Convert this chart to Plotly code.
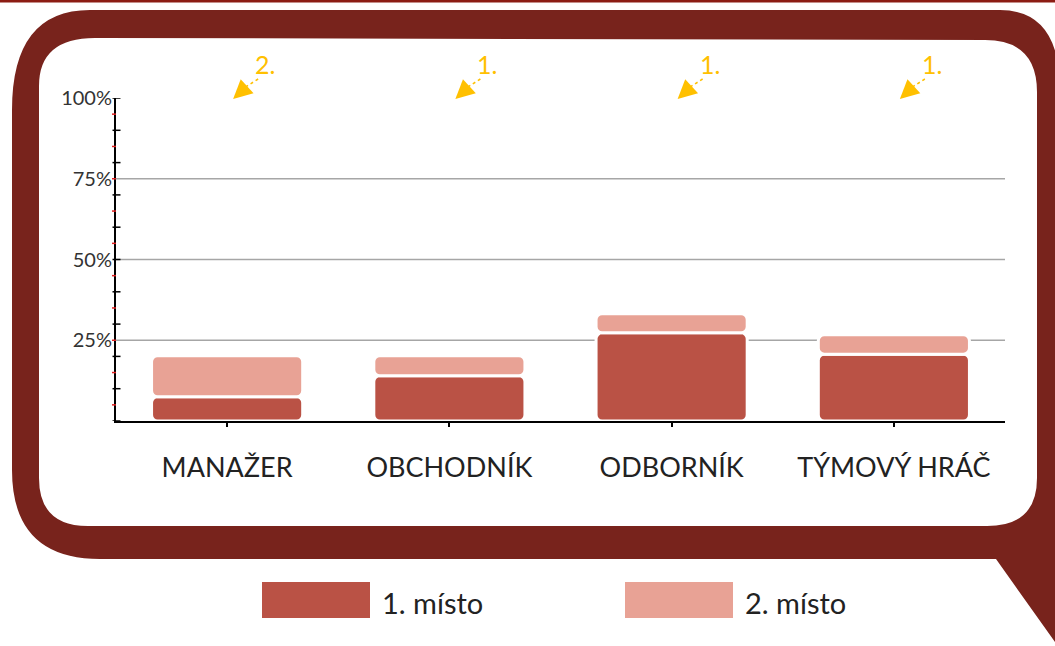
import plotly.graph_objects as go

# ---- data ----
categories = ["MANAŽER", "OBCHODNÍK", "ODBORNÍK", "TÝMOVÝ HRÁČ"]
first_place = [7.5, 14, 27.3, 20.7]
second_place = [12.7, 6.2, 5.9, 6.0]
series_names = ["1. místo", "2. místo"]
rank_labels = ["2.", "1.", "1.", "1."]
ytick_vals = [25, 50, 75, 100]
ytick_text = ["25%", "50%", "75%", "100%"]

# ---- styling ----
W, H = 1055, 646
DARK = "#BA5245"
LIGHT = "#E8A295"
BUBBLE = "#78231C"
GOLD = "#FFC000"
FONT = "Lato"


def px(x):
    return x / W


def py(y):
    return 1 - y / H


X0, X1 = 116, 1005   # plot area in pixels
Y0, Y1 = 421, 98

fig = go.Figure()
fig.add_trace(go.Bar(x=categories, y=first_place, base=[0] * len(first_place),
                     name=series_names[0], marker=dict(color=DARK, line=dict(color="white", width=3)),
                     showlegend=False))
fig.add_trace(go.Bar(x=categories, y=second_place, base=first_place,
                     name=series_names[1], marker=dict(color=LIGHT, line=dict(color="white", width=3)),
                     showlegend=False))

shapes = []
# thin stripe on top
shapes.append(dict(type="rect", xref="paper", yref="paper", x0=0, x1=1, y0=py(2.5), y1=1,
                   fillcolor="#8C1C13", line=dict(width=0), layer="below"))

# outer speech bubble
outer = (f"M {px(90)} {py(10)} L {px(1000)} {py(10)} "
         f"Q {px(1060)} {py(10)} {px(1060)} {py(90)} "
         f"L {px(1060)} {py(642)} L {px(1055)} {py(642)} "
         f"L {px(996)} {py(559)} L {px(100)} {py(559)} "
         f"Q {px(12)} {py(559)} {px(12)} {py(470)} "
         f"L {px(12)} {py(110)} Q {px(12)} {py(10)} {px(90)} {py(10)} Z")
shapes.append(dict(type="path", xref="paper", yref="paper", path=outer,
                   fillcolor=BUBBLE, line=dict(width=0), layer="below"))
inner = (f"M {px(95)} {py(38)} L {px(985)} {py(40)} "
         f"Q {px(1037)} {py(40)} {px(1037)} {py(92)} "
         f"L {px(1037)} {py(478)} Q {px(1037)} {py(526)} {px(987)} {py(526)} "
         f"L {px(88)} {py(526)} Q {px(39)} {py(526)} {px(39)} {py(478)} "
         f"L {px(39)} {py(86)} Q {px(39)} {py(38)} {px(95)} {py(38)} Z")
shapes.append(dict(type="path", xref="paper", yref="paper", path=inner,
                   fillcolor="white", line=dict(width=0), layer="below"))

# gridlines
for v in ytick_vals:
    if v < 100:
        shapes.append(dict(type="line", xref="paper", yref="y", x0=px(X0), x1=px(X1), y0=v, y1=v,
                           line=dict(color="#A6A6A6", width=1.5), layer="below"))

# y axis tick marks: black every 10, red every 10 offset by 5
for v in range(0, 101, 10):
    shapes.append(dict(type="line", xref="paper", yref="y", x0=px(112.5), x1=px(120.5), y0=v, y1=v,
                       line=dict(color="black", width=1.5)))
for v in range(5, 100, 10):
    shapes.append(dict(type="line", xref="paper", yref="y", x0=px(112), x1=px(116), y0=v, y1=v,
                       line=dict(color="#E02020", width=1.5)))

annotations = []
# rank arrows
step = (X1 - X0) / len(categories)
for i, lab in enumerate(rank_labels):
    cx = X0 + (i + 0.5) * step
    annotations.append(dict(xref="paper", yref="paper", x=px(cx + 38), y=py(64), text=lab,
                            xanchor="center", yanchor="middle",
                            showarrow=False, font=dict(family=FONT, size=25, color=GOLD)))
    shapes.append(dict(type="line", xref="paper", yref="paper", x0=px(cx + 31), y0=py(79),
                       x1=px(cx + 17), y1=py(88), line=dict(color=GOLD, width=1.5, dash="3px,3px")))
    annotations.append(dict(xref="paper", yref="paper", x=px(cx + 6), y=py(99), ax=12, ay=-11,
                            text="", showarrow=True, arrowhead=2, arrowsize=1.9, arrowwidth=2,
                            arrowcolor=GOLD))

# custom legend
legend_items = [(262, DARK, series_names[0]), (625, LIGHT, series_names[1])]
for lx, col, name in legend_items:
    shapes.append(dict(type="rect", xref="paper", yref="paper", x0=px(lx), x1=px(lx + 108),
                       y0=py(618), y1=py(582), fillcolor=col, line=dict(width=0)))
    annotations.append(dict(xref="paper", yref="paper", x=px(lx + 118), y=py(602), text=name,
                            xanchor="left", yanchor="middle", showarrow=False,
                            font=dict(family=FONT, size=29, color="#222222")))

fig.update_layout(
    width=W, height=H,
    margin=dict(l=0, r=0, t=0, b=0, pad=0, autoexpand=False),
    paper_bgcolor="white", plot_bgcolor="rgba(0,0,0,0)",
    barmode="overlay", bargap=0.32, barcornerradius=6,
    shapes=shapes, annotations=annotations,
    xaxis=dict(domain=[px(X0), px(X1)], showline=True, linecolor="black", linewidth=2,
               ticks="outside", ticklen=4, tickwidth=1.5, tickcolor="black",
               tickfont=dict(family=FONT, size=27, color="#222222"), ticklabelstandoff=18,
               showgrid=False, fixedrange=True),
    yaxis=dict(domain=[py(Y0), py(Y1)], range=[0, 100], showline=True, linecolor="black",
               linewidth=2, showgrid=False, zeroline=False, tickmode="array",
               tickvals=ytick_vals, ticktext=ytick_text, ticks="",
               tickfont=dict(family=FONT, size=20, color="#333333"), ticklabelstandoff=-2),
    showlegend=False,
)

fix_page = ("document.documentElement.style.margin='0';document.body.style.margin='0';"
            "document.body.style.overflow='hidden';"
            "var d=document.getElementsByClassName('plotly-graph-div')[0];"
            "d.style.position='fixed';d.style.top='0px';d.style.left='0px';")

fig.write_html("out.html", config={"displayModeBar": False}, post_script=fix_page)
